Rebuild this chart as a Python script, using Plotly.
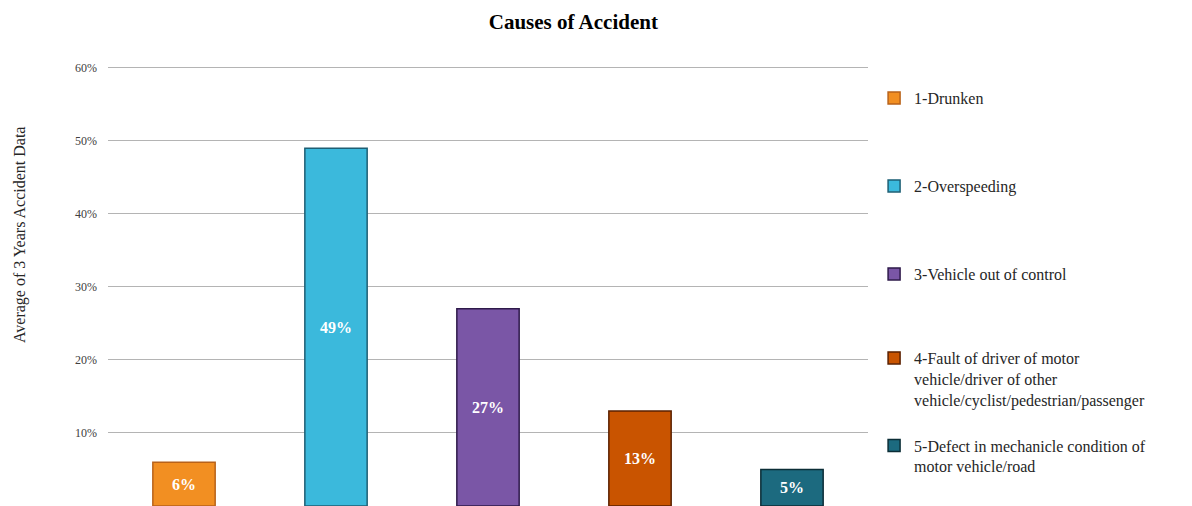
import plotly.graph_objects as go

# Causes of accident, average of three years of accident data
causes = [
    "1-Drunken",
    "2-Overspeeding",
    "3-Vehicle out of control",
    "4-Fault of driver of motor<br>vehicle/driver of other<br>vehicle/cyclist/pedestrian/passenger",
    "5-Defect in mechanicle condition of<br>motor vehicle/road",
]
shares = [0.06, 0.49, 0.27, 0.13, 0.05]
y_ticks = [0.0, 0.1, 0.2, 0.3, 0.4, 0.5, 0.6]
y_title = "Average of 3 Years Accident Data"

fill_colors = ["#F28F22", "#3BB9DC", "#7A56A6", "#C95400", "#1C6A7F"]
edge_colors = ["#B8621A", "#1E5F74", "#2E1A4A", "#5A2000", "#0B2D36"]

# vertical centre of each legend entry (paper units)
legend_y = [0.925, 0.7256, 0.526, 0.288, 0.1134]

SERIF = "Liberation Serif, Times New Roman, serif"

fig = go.Figure()
for i, (name, val) in enumerate(zip(causes, shares)):
    lg = "legend" if i == 0 else f"legend{i + 1}"
    fig.add_trace(go.Bar(
        x=[i + 1],
        y=[val],
        name=name,
        width=0.41,
        marker=dict(color=fill_colors[i], line=dict(color=edge_colors[i], width=1.5)),
        texttemplate="%{y:.0%}",
        textposition="inside",
        insidetextanchor="middle",
        textangle=0,
        constraintext="none",
        textfont=dict(family=SERIF, size=16, color="white", weight="bold"),
        legend=lg,
        showlegend=True,
    ))

legend_common = dict(
    x=1.008, xanchor="left", yanchor="middle",
    font=dict(family=SERIF, size=16, color="#262626"),
    bgcolor="rgba(0,0,0,0)", valign="top", itemwidth=30,
)
layout_legends = {}
for i, ly in enumerate(legend_y):
    key = "legend" if i == 0 else f"legend{i + 1}"
    layout_legends[key] = dict(legend_common, y=ly)

fig.update_layout(
    width=1192, height=506,
    margin=dict(l=108, r=324, t=65, b=0),
    paper_bgcolor="white", plot_bgcolor="white",
    barmode="overlay",
    title=dict(
        text="<b>Causes of Accident</b>",
        x=0.481, xref="container", xanchor="center",
        y=0.9565, yref="container", yanchor="middle",
        font=dict(family=SERIF, size=21, color="#000000"),
    ),
    xaxis=dict(
        range=[0.5, 5.5], showticklabels=False, showgrid=False,
        zeroline=False, showline=False, ticks="",
    ),
    yaxis=dict(
        range=[0, 0.604], tickvals=y_ticks, tickformat=".0%",
        tickfont=dict(family=SERIF, size=12, color="#404040"),
        showgrid=True, gridcolor="#B4B4B4", gridwidth=1,
        zeroline=False, showline=False, ticks="", ticklabelstandoff=10,
        automargin=False,
    ),
    annotations=[dict(
        text=y_title, textangle=-90,
        xref="paper", yref="paper", x=-0.1157, y=0.6145,
        xanchor="center", yanchor="middle", showarrow=False,
        font=dict(family=SERIF, size=16, color="#262626"),
    )],
    **layout_legends,
)

fig.write_html("out.html")
